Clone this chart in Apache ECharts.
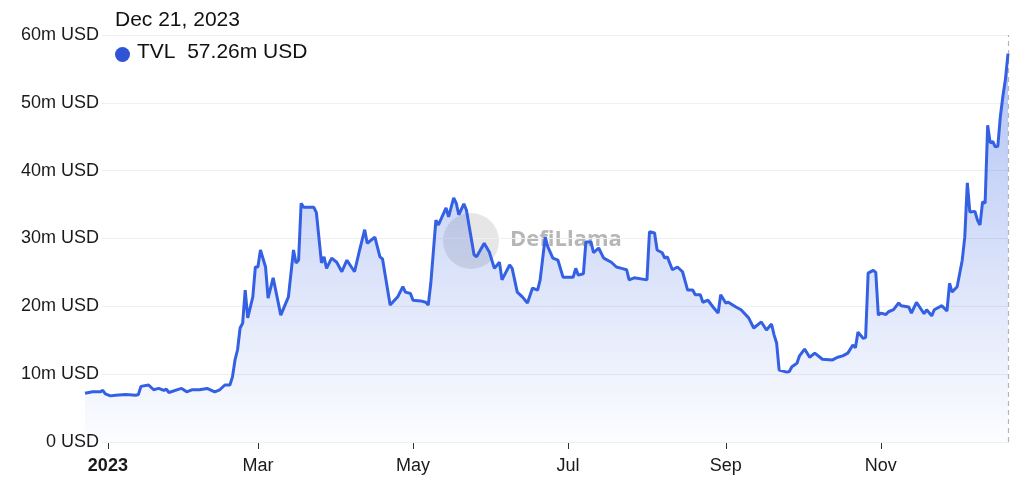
<!DOCTYPE html>
<html>
<head>
<meta charset="utf-8">
<script src="https://cdn.jsdelivr.net/npm/echarts@6/dist/echarts.min.js"></script>
<style>html,body{margin:0;padding:0;background:#fff}#c{width:1024px;height:485px}</style>
</head>
<body>
<div id="c"></div>
<script>
const dates = ['2022-12-23','2022-12-26','2022-12-29','2022-12-30','2022-12-31','2023-01-02','2023-01-04','2023-01-08','2023-01-12','2023-01-13','2023-01-14','2023-01-17','2023-01-19','2023-01-21','2023-01-23','2023-01-24','2023-01-25','2023-01-29','2023-01-30','2023-02-01','2023-02-03','2023-02-06','2023-02-09','2023-02-12','2023-02-14','2023-02-16','2023-02-18','2023-02-19','2023-02-20','2023-02-21','2023-02-22','2023-02-23','2023-02-24','2023-02-25','2023-02-27','2023-02-28','2023-03-01','2023-03-02','2023-03-04','2023-03-05','2023-03-07','2023-03-10','2023-03-13','2023-03-15','2023-03-16','2023-03-17','2023-03-18','2023-03-19','2023-03-23','2023-03-24','2023-03-26','2023-03-27','2023-03-28','2023-03-30','2023-04-01','2023-04-03','2023-04-05','2023-04-08','2023-04-10','2023-04-12','2023-04-13','2023-04-16','2023-04-18','2023-04-19','2023-04-22','2023-04-23','2023-04-25','2023-04-27','2023-04-28','2023-04-30','2023-05-01','2023-05-04','2023-05-06','2023-05-07','2023-05-08','2023-05-10','2023-05-11','2023-05-14','2023-05-15','2023-05-17','2023-05-18','2023-05-19','2023-05-21','2023-05-22','2023-05-25','2023-05-26','2023-05-29','2023-05-31','2023-06-02','2023-06-04','2023-06-05','2023-06-08','2023-06-09','2023-06-11','2023-06-13','2023-06-15','2023-06-17','2023-06-19','2023-06-20','2023-06-22','2023-06-23','2023-06-25','2023-06-27','2023-06-29','2023-07-03','2023-07-04','2023-07-05','2023-07-07','2023-07-08','2023-07-10','2023-07-11','2023-07-13','2023-07-15','2023-07-18','2023-07-20','2023-07-22','2023-07-24','2023-07-25','2023-07-27','2023-08-01','2023-08-02','2023-08-04','2023-08-05','2023-08-07','2023-08-08','2023-08-09','2023-08-11','2023-08-13','2023-08-15','2023-08-17','2023-08-19','2023-08-20','2023-08-22','2023-08-23','2023-08-25','2023-08-27','2023-08-29','2023-08-30','2023-09-01','2023-09-02','2023-09-05','2023-09-07','2023-09-10','2023-09-12','2023-09-15','2023-09-17','2023-09-19','2023-09-20','2023-09-21','2023-09-22','2023-09-25','2023-09-26','2023-09-27','2023-09-29','2023-09-30','2023-10-02','2023-10-04','2023-10-06','2023-10-09','2023-10-13','2023-10-15','2023-10-17','2023-10-19','2023-10-21','2023-10-22','2023-10-23','2023-10-25','2023-10-26','2023-10-27','2023-10-29','2023-10-30','2023-10-31','2023-11-01','2023-11-03','2023-11-04','2023-11-06','2023-11-08','2023-11-09','2023-11-12','2023-11-13','2023-11-15','2023-11-18','2023-11-19','2023-11-21','2023-11-22','2023-11-25','2023-11-27','2023-11-28','2023-11-29','2023-12-01','2023-12-03','2023-12-04','2023-12-05','2023-12-06','2023-12-08','2023-12-09','2023-12-10','2023-12-11','2023-12-12','2023-12-13','2023-12-14','2023-12-15','2023-12-16','2023-12-17','2023-12-18','2023-12-19','2023-12-20','2023-12-21'];
const tvl = [7.2,7.4,7.4,7.6,7.1,6.8,6.9,7.0,6.9,7.0,8.2,8.4,7.7,7.9,7.6,7.8,7.3,7.8,7.9,7.4,7.7,7.7,7.9,7.4,7.7,8.4,8.4,9.6,12.1,13.6,16.8,17.5,22.4,18.3,21.4,25.8,25.8,28.3,25.8,21.2,24.2,18.7,21.4,28.3,26.4,26.8,35.2,34.6,34.6,33.8,26.4,27.3,25.6,27.1,26.5,25.1,26.8,25.1,28.3,31.3,29.3,30.2,27.3,27.0,20.2,20.6,21.4,22.9,22.1,21.9,20.9,20.8,20.6,20.2,23.4,32.7,32.0,34.5,33.2,36.0,35.2,33.5,35.1,34.2,27.6,27.3,29.3,28.0,25.6,26.5,23.9,26.1,25.6,22.1,21.4,20.5,22.7,22.4,23.9,30.2,28.8,27.1,26.8,24.3,24.3,25.6,24.6,24.8,29.5,29.5,27.9,28.6,27.1,26.5,25.8,25.6,25.4,23.9,24.2,23.9,31.0,30.8,28.3,27.9,27.1,27.3,25.4,25.8,25.1,22.4,22.4,21.7,21.7,20.6,20.9,19.9,19.0,21.7,20.5,20.6,19.9,19.5,18.3,16.8,17.7,16.5,17.4,15.8,14.6,10.6,10.3,10.4,11.1,11.6,12.7,13.7,12.5,13.1,12.2,12.1,12.5,12.7,13.1,14.3,13.9,16.2,15.3,15.4,24.9,25.3,25.0,18.7,19.0,18.8,19.2,19.5,20.5,20.1,19.9,19.0,20.6,18.9,19.5,18.6,19.5,20.1,19.3,23.4,22.1,22.9,26.8,30.2,38.2,33.9,34.0,32.7,32.0,35.4,35.2,46.7,44.1,44.3,43.5,43.6,48.0,51.0,53.5,57.26];
const tickMonths = ['2023-01-01','2023-03-01','2023-05-01','2023-07-01','2023-09-01','2023-11-01'];
const tickLabels = ['2023','Mar','May','Jul','Sep','Nov'];
const yTicks = [0,10,20,30,40,50,60];

function toTs(s){ const p = s.split('-').map(Number); return Date.UTC(p[0], p[1]-1, p[2]); }
const tickTs = tickMonths.map(toTs);
const seriesData = dates.map((d,i)=>[toTs(d), tvl[i]]);
const lastDate = dates[dates.length-1];
const lastVal = tvl[tvl.length-1];
const monthNames = ['Jan','Feb','Mar','Apr','May','Jun','Jul','Aug','Sep','Oct','Nov','Dec'];
const lp = lastDate.split('-').map(Number);
const headerDate = monthNames[lp[1]-1] + ' ' + lp[2] + ', ' + lp[0];

const FONT = '"Liberation Sans", Arial, Helvetica, sans-serif';
const BLUE = '#3460E3';
const chart = echarts.init(document.getElementById('c'), null, {renderer:'canvas'});
chart.setOption({
  animation: false,
  textStyle: {fontFamily: FONT},
  grid: {left: 85, right: 16, top: 35, bottom: 43, containLabel: false, outerBoundsMode: 'none'},
  xAxis: {
    type: 'value',
    min: 'dataMin', max: 'dataMax',
    axisLine: {show: true, lineStyle: {color: '#cfcfcf', width: 1}},
    axisTick: {show: true, length: 7, lineStyle: {color: '#333', width: 1}, customValues: tickTs},
    axisLabel: {
      customValues: tickTs,
      margin: 15,
      fontSize: 18,
      color: '#1a1a1a',
      fontFamily: FONT,
      showMinLabel: true, showMaxLabel: true,
      formatter: function(v){
        let i = -1;
        for (let k = 0; k < tickTs.length; k++) if (Math.abs(tickTs[k] - v) < 1000) i = k;
        if (i === 0) return '{b|' + tickLabels[i] + '}';
        return i >= 0 ? tickLabels[i] : '';
      },
      rich: {b: {fontWeight: 'bold', fontSize: 18, color: '#1a1a1a', fontFamily: FONT}}
    },
    splitLine: {show: false}
  },
  yAxis: {
    type: 'value',
    min: yTicks[0], max: yTicks[yTicks.length-1], interval: 10,
    z: 5,
    axisLine: {show: false},
    axisTick: {show: false},
    splitLine: {lineStyle: {color: '#efefef', width: 1}},
    axisLabel: {
      margin: -17,
      fontSize: 18,
      color: '#1a1a1a',
      fontFamily: FONT,
      backgroundColor: '#fff',
      padding: [0, 3, 0, 0],
      formatter: function(v){ return v === 0 ? '0 USD' : v + 'm USD'; }
    }
  },
  series: [{
    type: 'line',
    name: 'TVL',
    data: seriesData,
    showSymbol: false,
    symbol: 'none',
    zlevel: 1,
    lineStyle: {color: BLUE, width: 3},
    itemStyle: {color: BLUE},
    areaStyle: {
      color: new echarts.graphic.LinearGradient(0, 0, 0, 1, [
        {offset: 0, color: 'rgba(52,96,227,0.55)'},
        {offset: 1, color: 'rgba(52,96,227,0.02)'}
      ])
    },
    markLine: {
      silent: true,
      symbol: ['none','none'],
      label: {show: false},
      lineStyle: {type: [5, 4], color: '#b5b5b5', width: 1.2},
      data: [{xAxis: toTs(lastDate)}]
    },
    z: 3
  }],
  graphic: [
    {type: 'circle', left: 443, top: 213, shape: {r: 28}, style: {fill: 'rgba(140,140,140,0.22)'}, silent: true, z: 1},
    {type: 'text', left: 510, top: 229, style: {text: 'DefiLlama', fill: 'rgba(110,110,110,0.5)', font: 'bold 22px "Open Sans", ' + FONT}, silent: true, z: 1},
    {type: 'text', left: 115, top: 10, style: {text: headerDate, fill: '#111', font: '21px ' + FONT}, z: 20},
    {type: 'circle', left: 115, top: 47, shape: {r: 7.5}, style: {fill: '#2F54D6'}, z: 20},
    {type: 'text', left: 137, top: 42, style: {text: 'TVL  ' + lastVal.toFixed(2) + 'm USD', fill: '#111', font: '21px ' + FONT}, z: 20}
  ]
});
</script>
</body>
</html>
